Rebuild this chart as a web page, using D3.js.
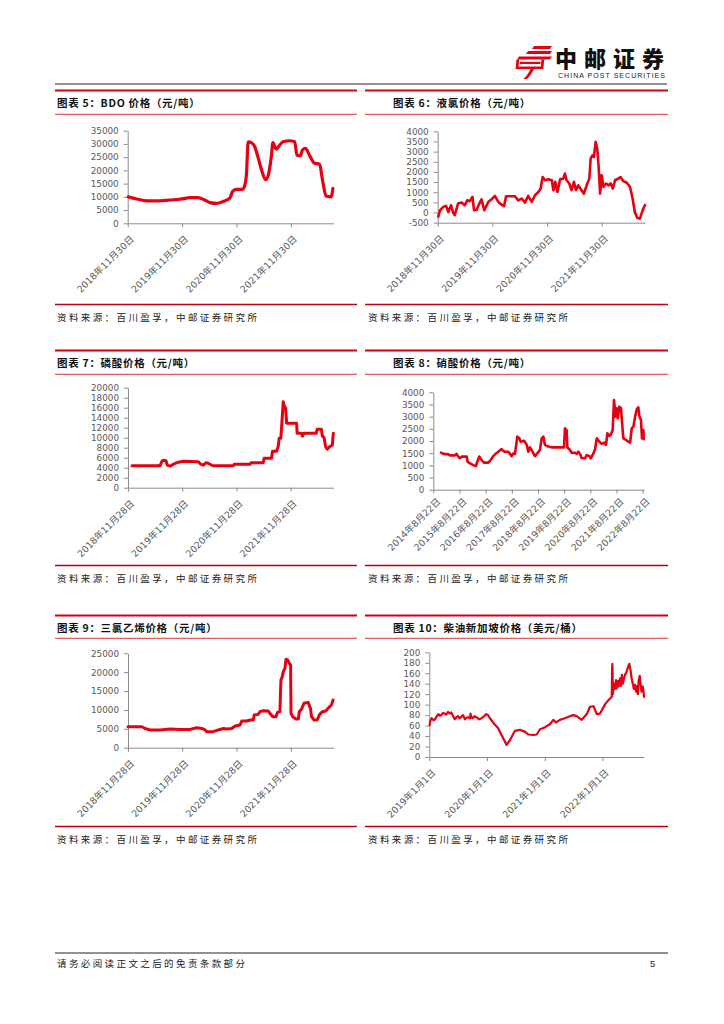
<!DOCTYPE html>
<html><head><meta charset="utf-8">
<script src="https://cdn.jsdelivr.net/npm/d3@7"></script>
<style>
body{margin:0;background:#fff;}
svg{display:block;background:#fff;}
</style></head><body>
<svg id="page" width="724" height="1024"></svg>
<script>
// ---------- DATA ----------
// 图表5 BDO
const bdoDates = ["2018-12-04","2019-01-29","2019-04-05","2019-07-03","2019-09-09","2019-12-01","2020-01-21","2020-03-17","2020-05-01","2020-06-04","2020-07-18","2020-09-01","2020-10-16","2020-11-03","2020-11-26","2021-01-09","2021-01-25","2021-02-05","2021-02-16","2021-03-09","2021-04-01","2021-04-23","2021-05-15","2021-06-13","2021-06-29","2021-07-21","2021-08-01","2021-08-24","2021-09-15","2021-10-08","2021-11-22","2021-12-25","2022-01-10","2022-02-02","2022-02-15","2022-03-08","2022-04-04","2022-05-07","2022-06-10","2022-07-02","2022-07-24","2022-08-27","2022-09-08"];
const bdoValues = [10000,9200,8500,8500,8800,9200,9700,9700,8800,7800,7500,8200,9500,12000,12800,12800,14500,19000,30800,30500,29000,25000,20500,16500,17800,25000,30500,28000,29500,30800,31200,30800,25700,25500,27700,28300,25700,22700,22400,15700,10300,10000,13200];
const bdoYTicks = [0,5000,10000,15000,20000,25000,30000,35000];
const bdoXTicks = ["2018-11-30","2019-11-30","2020-11-30","2021-11-30"];
const bdoXLabels = ["2018年11月30日","2019年11月30日","2020年11月30日","2021年11月30日"];

// 图表6 液氯
const chlorDates = ["2018-12-04","2018-12-15","2019-01-07","2019-01-25","2019-02-09","2019-02-27","2019-03-13","2019-03-24","2019-04-15","2019-05-08","2019-05-30","2019-06-15","2019-07-03","2019-07-20","2019-07-31","2019-08-16","2019-09-04","2019-09-19","2019-10-07","2019-11-03","2019-11-25","2019-12-17","2020-01-09","2020-01-31","2020-02-16","2020-03-01","2020-03-26","2020-04-29","2020-05-21","2020-06-13","2020-07-05","2020-07-27","2020-08-19","2020-09-10","2020-10-03","2020-10-18","2020-10-31","2020-11-16","2020-12-09","2020-12-31","2021-01-11","2021-01-23","2021-02-07","2021-02-25","2021-03-18","2021-03-29","2021-04-09","2021-04-27","2021-05-12","2021-05-28","2021-06-11","2021-06-26","2021-07-18","2021-08-03","2021-08-21","2021-09-08","2021-09-17","2021-09-30","2021-10-09","2021-10-20","2021-10-31","2021-11-10","2021-11-19","2021-11-30","2021-12-11","2021-12-29","2022-01-14","2022-01-29","2022-02-12","2022-02-27","2022-03-20","2022-04-05","2022-04-23","2022-05-15","2022-06-07","2022-06-24","2022-07-09","2022-07-25","2022-08-12","2022-08-23","2022-09-04","2022-09-15"];
const chlorValues = [-200,100,280,330,30,360,0,-130,440,490,360,600,560,770,110,110,440,650,110,520,650,820,520,390,310,800,800,800,600,690,490,820,520,850,1010,1180,1750,1590,1640,1590,1100,1510,1010,1640,1670,1920,1590,1430,1100,1510,1100,1340,1100,930,1340,1670,2660,2820,2740,3480,3150,2160,930,1840,1260,1430,1340,1430,1180,1590,1670,1750,1540,1480,1260,690,30,-260,-300,-50,200,360];
const chlorYTicks = [-500,0,500,1000,1500,2000,2500,3000,3500,4000];
const chlorXTicks = ["2018-11-30","2019-11-30","2020-11-30","2021-11-30"];
const chlorXLabels = ["2018年11月30日","2019年11月30日","2020年11月30日","2021年11月30日"];

// 图表7 磷酸
const phosDates = ["2018-12-25","2019-07-02","2019-07-13","2019-07-24","2019-08-11","2019-08-20","2019-09-08","2019-09-30","2019-11-03","2019-12-07","2020-03-16","2020-04-01","2020-04-19","2020-05-07","2020-05-22","2020-06-21","2020-11-07","2020-11-14","2021-02-28","2021-03-06","2021-05-27","2021-06-03","2021-07-22","2021-07-29","2021-08-25","2021-09-05","2021-09-12","2021-09-23","2021-09-28","2021-10-09","2021-10-18","2021-10-25","2021-11-01","2022-01-07","2022-01-11","2022-02-09","2022-02-16","2022-02-25","2022-05-20","2022-05-26","2022-06-23","2022-06-30","2022-07-11","2022-07-22","2022-08-02","2022-08-17","2022-09-05","2022-09-12"];
const phosValues = [4400,4400,5200,5500,5400,4500,4300,4700,5100,5300,5200,4700,4500,5000,4900,4400,4400,4700,4700,5000,5000,5900,5900,7300,7300,8200,9900,9900,11900,17200,16200,15900,12900,12900,10900,10900,10300,10900,10900,11700,11700,10300,10100,8200,7700,8200,8500,10900];
const phosYTicks = [0,2000,4000,6000,8000,10000,12000,14000,16000,18000,20000];
const phosXTicks = ["2018-11-28","2019-11-28","2020-11-28","2021-11-28"];
const phosXLabels = ["2018年11月28日","2019年11月28日","2020年11月28日","2021年11月28日"];

// 图表8 硝酸
const nitDates = ["2014-12-07","2015-01-09","2015-03-19","2015-04-11","2015-06-20","2015-07-13","2015-08-05","2015-08-29","2015-09-22","2015-11-30","2015-12-14","2016-01-16","2016-03-03","2016-04-09","2016-04-27","2016-05-25","2016-06-27","2016-07-29","2016-09-29","2016-10-31","2016-12-07","2017-01-14","2017-02-15","2017-04-01","2017-04-25","2017-05-18","2017-07-04","2017-07-27","2017-08-19","2017-09-12","2017-10-05","2017-11-07","2017-12-05","2017-12-24","2018-02-08","2018-03-16","2018-04-09","2018-05-02","2018-05-25","2018-07-11","2018-08-12","2018-09-19","2018-10-12","2018-11-05","2018-11-28","2019-01-14","2019-03-02","2019-08-20","2019-09-03","2019-09-26","2019-10-06","2019-11-03","2019-12-06","2020-01-22","2020-02-14","2020-03-08","2020-03-31","2020-04-24","2020-06-09","2020-07-02","2020-08-09","2020-08-27","2020-10-04","2020-10-27","2020-11-20","2020-12-27","2021-01-28","2021-03-02","2021-03-29","2021-04-17","2021-05-14","2021-06-02","2021-06-30","2021-07-18","2021-08-11","2021-08-25","2021-09-08","2021-10-01","2021-10-24","2021-11-12","2021-11-26","2021-12-20","2022-02-04","2022-02-28","2022-03-23","2022-04-15","2022-05-09","2022-06-01","2022-06-23","2022-07-07","2022-07-30","2022-08-13","2022-09-01","2022-09-06"];
const nitValues = [1520,1470,1450,1410,1410,1470,1360,1290,1360,1360,1150,1080,1010,970,1150,1360,1220,1110,1110,1220,1380,1490,1560,1670,1590,1560,1560,1470,1380,1490,1470,2180,2110,1970,2010,1860,1560,1740,1630,1380,1490,1630,2110,2180,1840,1770,1740,1740,2520,2450,1740,1660,1520,1520,1470,1560,1470,1290,1290,1420,1380,1290,1490,1660,2110,1970,1880,1930,1840,2320,2210,2250,2450,3680,3000,3340,2930,3410,3340,2590,2110,2070,1970,1930,2520,2590,3000,3300,3380,3030,2860,2110,2450,2070];
const nitYTicks = [0,500,1000,1500,2000,2500,3000,3500,4000];
const nitXTicks = ["2014-08-22","2015-08-22","2016-08-22","2017-08-22","2018-08-22","2019-08-22","2020-08-22","2021-08-22","2022-08-22"];
const nitXLabels = ["2014年8月22日","2015年8月22日","2016年8月22日","2017年8月22日","2018年8月22日","2019年8月22日","2020年8月22日","2021年8月22日","2022年8月22日"];

// 图表9 三氯乙烯
const triDates = ["2018-11-28","2019-03-01","2019-03-23","2019-04-26","2019-07-02","2019-09-08","2019-11-14","2020-01-20","2020-03-05","2020-04-08","2020-04-30","2020-05-11","2020-06-25","2020-07-28","2020-08-31","2020-09-23","2020-10-27","2020-11-19","2020-12-22","2021-01-02","2021-02-05","2021-02-28","2021-03-21","2021-03-27","2021-04-23","2021-05-04","2021-05-27","2021-06-29","2021-07-15","2021-07-29","2021-08-20","2021-08-31","2021-09-16","2021-09-23","2021-10-02","2021-10-09","2021-10-20","2021-10-27","2021-11-07","2021-11-18","2021-11-27","2021-11-30","2021-12-11","2022-01-02","2022-01-18","2022-01-25","2022-02-09","2022-02-25","2022-03-25","2022-04-10","2022-04-17","2022-05-04","2022-05-24","2022-06-11","2022-06-30","2022-07-22","2022-08-06","2022-08-29","2022-09-09"];
const triValues = [5560,5560,5100,4700,4700,4950,4850,4850,5300,5100,4700,4250,4250,4700,5100,4950,5100,5750,6000,7070,7070,7330,7330,8660,8830,9540,9800,9720,8920,8220,8220,9360,9540,17930,18820,20140,21020,23410,23230,22350,21900,9100,8220,7600,7600,9540,10250,11750,12010,10420,8220,7330,7330,8830,9540,9720,10420,11310,12630];
const triYTicks = [0,5000,10000,15000,20000,25000];
const triXTicks = ["2018-11-28","2019-11-28","2020-11-28","2021-11-28"];
const triXLabels = ["2018年11月28日","2019年11月28日","2020年11月28日","2021年11月28日"];

// 图表10 柴油新加坡
const dieselDates = ["2019-01-03","2019-01-08","2019-01-16","2019-01-28","2019-02-06","2019-02-18","2019-02-27","2019-03-08","2019-03-18","2019-03-28","2019-04-08","2019-04-18","2019-04-30","2019-05-10","2019-05-20","2019-06-01","2019-06-11","2019-06-21","2019-07-02","2019-07-12","2019-07-23","2019-08-03","2019-08-14","2019-08-24","2019-09-04","2019-09-16","2019-09-19","2019-09-24","2019-10-01","2019-10-14","2019-10-26","2019-11-12","2019-11-28","2019-12-14","2019-12-29","2020-01-08","2020-01-20","2020-02-14","2020-03-12","2020-04-02","2020-04-24","2020-05-04","2020-05-25","2020-06-26","2020-07-28","2020-08-29","2020-09-19","2020-10-21","2020-11-11","2020-12-02","2021-01-03","2021-02-04","2021-02-24","2021-03-12","2021-04-07","2021-05-08","2021-06-10","2021-07-01","2021-07-22","2021-08-23","2021-09-24","2021-10-14","2021-11-05","2021-11-26","2021-12-17","2022-01-18","2022-02-09","2022-03-01","2022-03-03","2022-03-05","2022-03-08","2022-03-14","2022-03-21","2022-03-28","2022-04-01","2022-04-08","2022-04-14","2022-04-22","2022-04-28","2022-05-04","2022-05-10","2022-05-17","2022-05-24","2022-06-03","2022-06-12","2022-06-20","2022-06-28","2022-07-05","2022-07-12","2022-07-19","2022-07-26","2022-08-02","2022-08-08","2022-08-13","2022-08-18","2022-08-25","2022-08-30","2022-09-05","2022-09-12","2022-09-17","2022-09-21"];
const dieselValues = [61,70,74,70,72,78,82,79,80,84,83,81,86,83,85,78,72,76,78,74,77,80,72,75,76,74,83,76,74,78,76,72,74,78,82,80,74,64,55,42,29,23,32,50,52,48,43,42,43,53,57,63,71,66,71,74,78,80,78,71,82,96,97,82,83,101,109,115,170,178,120,140,130,147,131,145,135,150,136,157,140,150,157,163,172,178,165,150,140,130,138,125,135,120,145,155,140,125,135,128,115];
const dieselYTicks = [0,20,40,60,80,100,120,140,160,180,200];
const dieselXTicks = ["2019-01-01","2020-01-01","2021-01-01","2022-01-01"];
const dieselXLabels = ["2019年1月1日","2020年1月1日","2021年1月1日","2022年1月1日"];

// ---------- LAYOUT ----------
const parse = d3.timeParse("%Y-%m-%d");
const svg = d3.select("#page");
const CJK = "'Noto Sans CJK SC', sans-serif";
const NUM = "'DejaVu Sans', 'Noto Sans CJK SC', sans-serif";
const RED = "#e60012";

const rows = [
  {top:90.5, title:107, ul:114.3, bot:304.5, src:320.5},
  {top:350.5, title:367, ul:374.3, bot:565.5, src:581.5},
  {top:615.5, title:631.5, ul:638.3, bot:826.5, src:842.5}
];
const cols = {L:{x0:55, x1:357, tx:57, sx:57}, R:{x0:365, x1:668, tx:393, sx:368}};

const panels = [
  {row:0, col:"L", title:"图表 5：BDO 价格（元/吨）", dates:bdoDates, values:bdoValues, yTicks:bdoYTicks, xTicks:bdoXTicks, xLabels:bdoXLabels,
   px0:127.7, px1:333.5, pyTop:130.7, pyBot:223.3, end:"2022-09-12", lw:3.2, smooth:true, lab:[4,14]},
  {row:0, col:"R", title:"图表 6：液氯价格（元/吨）", dates:chlorDates, values:chlorValues, yTicks:chlorYTicks, xTicks:chlorXTicks, xLabels:chlorXLabels,
   px0:437.7, px1:645, pyTop:131.3, pyBot:222.7, end:"2022-09-15", lw:2.6, smooth:false, lab:[4,14]},
  {row:1, col:"L", title:"图表 7：磷酸价格（元/吨）", dates:phosDates, values:phosValues, yTicks:phosYTicks, xTicks:phosXTicks, xLabels:phosXLabels,
   px0:128, px1:333.5, pyTop:387.7, pyBot:487.7, end:"2022-09-13", lw:3, smooth:false, lab:[4,14]},
  {row:1, col:"R", title:"图表 8：硝酸价格（元/吨）", dates:nitDates, values:nitValues, yTicks:nitYTicks, xTicks:nitXTicks, xLabels:nitXLabels,
   px0:433.3, px1:644, pyTop:392.3, pyBot:489.7, end:"2022-09-10", lw:2.6, smooth:false, lab:[5,10]},
  {row:2, col:"L", title:"图表 9：三氯乙烯价格（元/吨）", dates:triDates, values:triValues, yTicks:triYTicks, xTicks:triXTicks, xLabels:triXLabels,
   px0:128, px1:333.5, pyTop:653.3, pyBot:747.7, end:"2022-09-12", lw:3, smooth:false, lab:[4,14]},
  {row:2, col:"R", title:"图表 10：柴油新加坡价格（美元/桶）", dates:dieselDates, values:dieselValues, yTicks:dieselYTicks, xTicks:dieselXTicks, xLabels:dieselXLabels,
   px0:429.3, px1:644, pyTop:652.3, pyBot:757, end:"2022-09-21", lw:2.2, smooth:false, lab:[4,14]}
];

// ---------- HEADER ----------
const logo = svg.append("g").attr("fill", "#e60012");
logo.append("path").attr("d","M534,46 L552,46 L550,49 L532,49 Z");
logo.append("path").attr("d","M528,51 L552,51 L550,54 L526,54 Z");
logo.append("path").attr("d","M519,56.5 L552,56.5 L550,59.5 L517,59.5 Z");
logo.append("path").attr("d","M516.5,59.5 L519.3,59.5 L518.6,66.4 L540.8,66.4 L541.4,59.5 L544.2,59.5 L543.4,69 L515.6,69 Z");
logo.append("path").attr("d","M520,61.8 L540.6,61.8 L540.3,64.1 L519.8,64.1 Z");
logo.append("path").attr("d","M530.5,69 L534,69 C532.5,72.5 530,76 527,79 L523.5,79 C526.5,76 529,72.5 530.5,69 Z");

svg.append("text").attr("x",555).attr("y",66.5)
  .attr("font-family",CJK).attr("font-weight","900").attr("font-size",22)
  .attr("letter-spacing",7).attr("fill","#111").text("中邮证券");
svg.append("text").attr("x",558).attr("y",77.5)
  .attr("font-family","'Liberation Sans', Arial, sans-serif").attr("font-size",7)
  .attr("textLength",107).attr("lengthAdjust","spacing").attr("fill","#222")
  .text("CHINA POST SECURITIES");
svg.append("line").attr("x1",55).attr("x2",667).attr("y1",84).attr("y2",84)
  .attr("stroke","#222").attr("stroke-width",1);

// ---------- FOOTER ----------
svg.append("line").attr("x1",55).attr("x2",668).attr("y1",953).attr("y2",953)
  .attr("stroke","#222").attr("stroke-width",1);
svg.append("text").attr("x",57).attr("y",967).attr("font-family",CJK).attr("font-size",9.5)
  .attr("letter-spacing",2.4).attr("fill","#222").text("请务必阅读正文之后的免责条款部分");
svg.append("text").attr("x",650).attr("y",967).attr("font-family","'Liberation Sans', sans-serif")
  .attr("font-size",9.5).attr("fill","#222").text("5");

// ---------- PANELS ----------
panels.forEach(p => {
  const r = rows[p.row], c = cols[p.col];
  const g = svg.append("g");
  g.append("line").attr("x1",c.x0).attr("x2",c.x1).attr("y1",r.top).attr("y2",r.top)
    .attr("stroke","#d40012").attr("stroke-width",2);
  g.append("line").attr("x1",c.x0).attr("x2",c.x1).attr("y1",r.ul).attr("y2",r.ul)
    .attr("stroke","#d9363e").attr("stroke-width",1);
  g.append("line").attr("x1",c.x0).attr("x2",c.x1).attr("y1",r.bot).attr("y2",r.bot)
    .attr("stroke","#c00010").attr("stroke-width",1.3);
  g.append("text").attr("x",c.tx).attr("y",r.title).attr("font-family",CJK)
    .attr("font-weight","bold").attr("font-size",10.5).attr("letter-spacing",0.7)
    .attr("fill","#111").text(p.title);
  g.append("text").attr("x",c.sx).attr("y",r.src).attr("font-family",CJK)
    .attr("font-size",9.5).attr("letter-spacing",2.4).attr("fill","#222")
    .text("资料来源：百川盈孚，中邮证券研究所");

  const xt = p.xTicks.map(parse);
  const x = d3.scaleTime().domain([xt[0], parse(p.end)]).range([p.px0, p.px1]);
  const y = d3.scaleLinear().domain([p.yTicks[0], p.yTicks[p.yTicks.length-1]]).range([p.pyBot, p.pyTop]);

  const ya = d3.axisLeft(y).tickValues(p.yTicks).tickSize(4).tickSizeOuter(0).tickPadding(5)
    .tickFormat(d => String(d));
  const yg = g.append("g").attr("transform",`translate(${p.px0},0)`).call(ya);
  yg.selectAll("text").attr("font-family",NUM).attr("font-size",8.8).attr("fill","#595959");

  const xa = d3.axisBottom(x).tickValues(xt).tickSize(4).tickSizeOuter(0)
    .tickFormat((d,i) => p.xLabels[i]);
  const xg = g.append("g").attr("transform",`translate(0,${p.pyBot})`).call(xa);
  xg.selectAll("text").attr("font-family",NUM).attr("font-size",9.4).attr("fill","#595959")
    .attr("x",0).attr("y",0).attr("dy","0.35em").attr("text-anchor","end")
    .attr("transform",`translate(${p.lab[0]},${p.lab[1]}) rotate(-45)`);

  [yg, xg].forEach(a => {
    a.select(".domain").attr("stroke","#8c8c8c");
    a.selectAll(".tick line").attr("stroke","#8c8c8c");
  });

  const pts = p.dates.map((d,i) => ({d: parse(d), v: p.values[i]}));
  const line = d3.line().x(d => x(d.d)).y(d => y(d.v))
    .curve(p.smooth ? d3.curveMonotoneX : d3.curveLinear);
  g.append("path").datum(pts).attr("d", line).attr("fill","none")
    .attr("stroke",RED).attr("stroke-width",p.lw)
    .attr("stroke-linejoin","round").attr("stroke-linecap","round");
});
</script>
</body></html>
